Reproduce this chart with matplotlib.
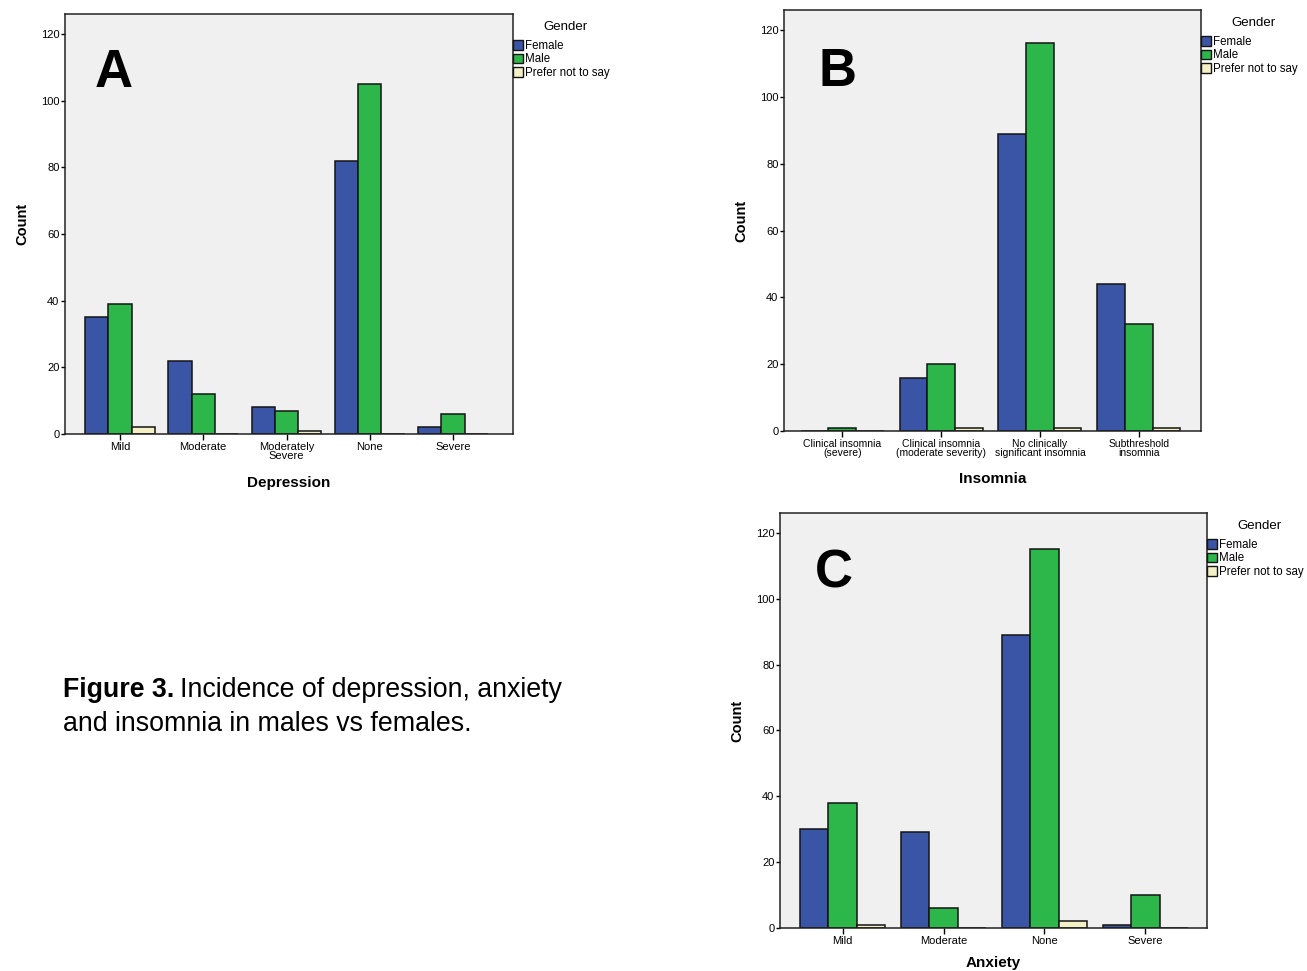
import numpy as np
import matplotlib
matplotlib.use("Agg")
import matplotlib.pyplot as plt
from matplotlib.patches import Patch

plt.rcParams['font.family'] = ['Liberation Sans', 'DejaVu Sans']

genders = ['Female', 'Male', 'Prefer not to say']
colors = ['#3A55A6', '#2DB64A', '#F4F0C6']

# panel A - depression
dep_cats = ['Mild', 'Moderate', 'Moderately\nSevere', 'None', 'Severe']
dep_female = [35, 22, 8, 82, 2]
dep_male = [39, 12, 7, 105, 6]
dep_pnts = [2, 0, 1, 0, 0]

# panel B - insomnia
ins_cats = ['Clinical insomnia\n(severe)', 'Clinical insomnia\n(moderate severity)',
            'No clinically\nsignificant insomnia', 'Subthreshold\ninsomnia']
ins_female = [0, 16, 89, 44]
ins_male = [1, 20, 116, 32]
ins_pnts = [0, 1, 1, 1]

# panel C - anxiety
anx_cats = ['Mild', 'Moderate', 'None', 'Severe']
anx_female = [30, 29, 89, 1]
anx_male = [38, 6, 115, 10]
anx_pnts = [1, 0, 2, 0]

W, H = 1307, 971
fig = plt.figure(figsize=(W / 100, H / 100), dpi=100)


def px_axes(left, top, right, bottom):
    ax = fig.add_axes([left / W, 1 - bottom / H, (right - left) / W, (bottom - top) / H])
    return ax, right - left, bottom - top


def panel(axinfo, cats, series, xlabel, letter, xpad, ticksize, letter_pos, xlabelpad):
    ax, wpx, hpx = axinfo
    x = np.arange(len(cats))
    w = 0.28
    for k, (vals, c, lab) in enumerate(zip(series, colors, genders)):
        ax.bar(x + (k - 1) * w, vals, width=w, color=c, edgecolor='#141414',
               linewidth=1.1, label=lab)
    ax.set_facecolor('#F0F0F0')
    ax.set_xlim(-xpad[0], len(cats) - 1 + xpad[1])
    ax.set_ylim(0, 126)
    ax.set_yticks([0, 20, 40, 60, 80, 100, 120])
    ax.set_xticks(x)
    ax.set_xticklabels(cats, fontsize=ticksize, linespacing=0.85)
    ax.tick_params(axis='y', labelsize=8, length=3, width=1, pad=1)
    ax.tick_params(axis='x', length=4, width=1, pad=2)
    for s in ax.spines.values():
        s.set_linewidth(1.1)
        s.set_color('#222222')
    ax.set_ylabel('Count', fontsize=10.5, fontweight='bold', labelpad=8)
    ax.set_xlabel(xlabel, fontsize=11, fontweight='bold', labelpad=xlabelpad)
    ax.text(letter_pos[0], letter_pos[1], letter, transform=ax.transAxes,
            fontsize=38, fontweight='bold', va='top', ha='left')

    # legend to the right of the plot, SPSS style
    ax.text(1 + 52 / wpx, 1 - 13 / hpx, 'Gender', transform=ax.transAxes,
            fontsize=9.5, ha='center', va='center')
    handles = [Patch(facecolor=c, edgecolor='#141414', linewidth=1.0) for c in colors]
    ax.legend(handles, genders, loc='upper left', bbox_to_anchor=(1.0, 1 - 26 / hpx),
              frameon=False, fontsize=8.3, handlelength=0.85, handleheight=0.9,
              handletextpad=0.15, labelspacing=0.12, borderaxespad=0, borderpad=0)


axA = px_axes(65, 14, 513, 434)
panel(axA, dep_cats, [dep_female, dep_male, dep_pnts], 'Depression', 'A',
      (0.66, 0.72), 8, (0.067, 0.92), 11)

axB = px_axes(784, 10, 1201, 431)
panel(axB, ins_cats, [ins_female, ins_male, ins_pnts], 'Insomnia', 'B',
      (0.59, 0.63), 7.5, (0.082, 0.912), 10)

axC = px_axes(780, 513, 1207, 928)
panel(axC, anx_cats, [anx_female, anx_male, anx_pnts], 'Anxiety', 'C',
      (0.62, 0.61), 8, (0.082, 0.915), 7)

# caption
t1 = fig.text(63 / W, 1 - 697 / H, 'Figure 3.', fontsize=19.3, fontweight='bold',
              va='baseline', ha='left')
fig.canvas.draw()
bb = t1.get_window_extent()
fig.text((bb.x1 + 6) / W, 1 - 697 / H, 'Incidence of depression, anxiety',
         fontsize=19.3, va='baseline', ha='left')
fig.text(63 / W, 1 - 731 / H, 'and insomnia in males vs females.',
         fontsize=19.3, va='baseline', ha='left')

fig.savefig('out.png', dpi=100)
